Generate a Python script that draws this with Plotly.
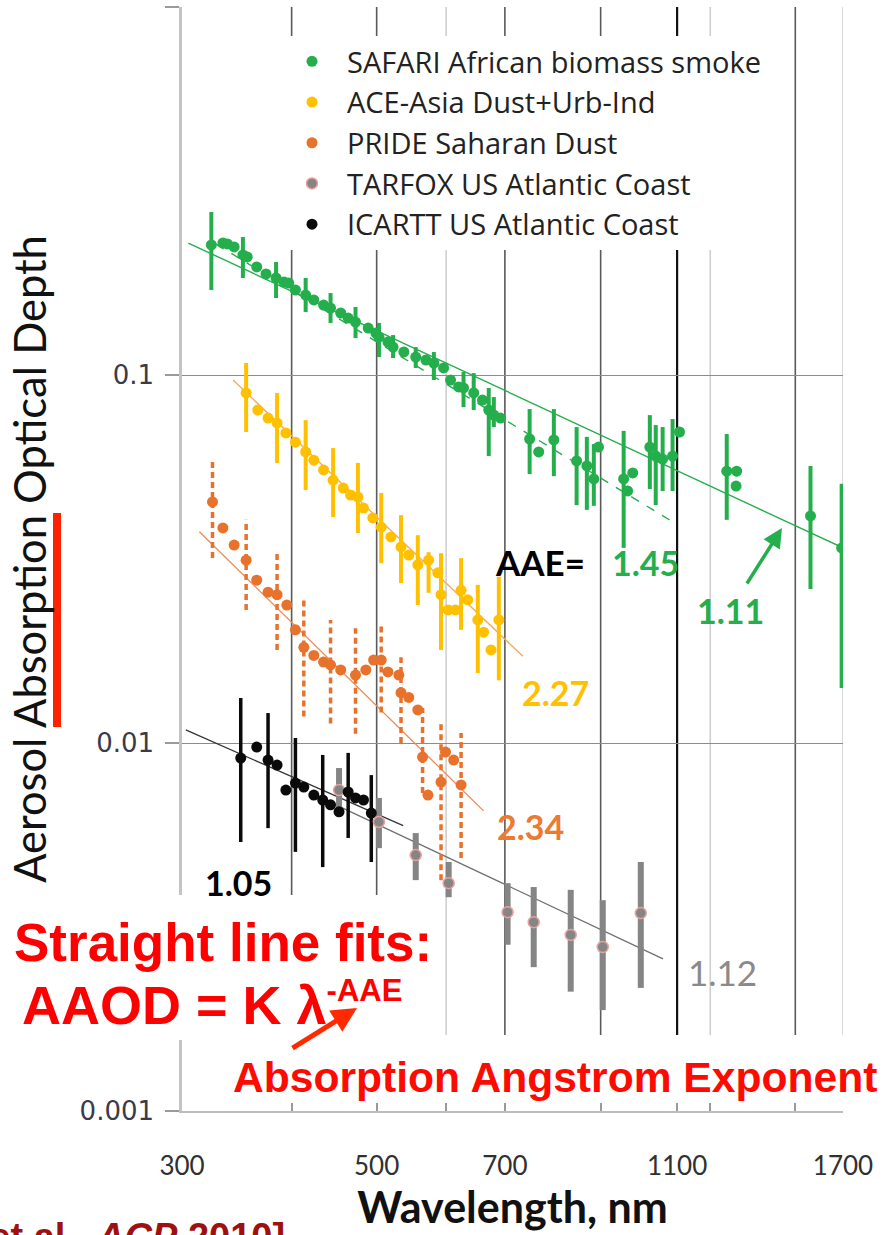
import plotly.graph_objects as go

N = None

# ---------------- data ----------------
safari_wl = [324, 334, 338, 344, 352, 356, 365, 374, 384, 392,
             397, 404, 415, 424, 435, 443, 455, 464, 473, 489,
             499, 503, 515, 522, 537, 554, 569, 581, 596, 607,
             620, 628, 645, 660, 671, 680, 692, 747, 765, 796,
             845, 868, 884, 895, 956, 966, 979, 1024, 1040, 1059,
             1087, 1107, 1253, 1284, 1286, 1561, 1694]
safari_aaod = [0.2256, 0.2284, 0.2270, 0.2228, 0.2119, 0.2093, 0.1966, 0.1882, 0.1835, 0.1790,
               0.1778, 0.1702, 0.1649, 0.1599, 0.1549, 0.1520, 0.1474, 0.1428, 0.1393, 0.1341,
               0.1300, 0.1268, 0.1229, 0.1191, 0.1155, 0.1119, 0.1098, 0.1078, 0.1045, 0.0969,
               0.0928, 0.0922, 0.0894, 0.0855, 0.0803, 0.0778, 0.0764, 0.0670, 0.0618, 0.0666,
               0.0584, 0.0566, 0.0522, 0.0637, 0.0522, 0.0484, 0.0542, 0.0637, 0.0602, 0.0591,
               0.0602, 0.0700, 0.0548, 0.0499, 0.0548, 0.0414, 0.0339]
safari_hi = [0.2773, N, N, N, 0.2371, N, N, N, 0.2028, N,
             N, N, 0.1835, N, N, 0.1670, N, N, 0.1530, N,
             N, 0.1385, N, 0.1284, N, 0.1191, N, 0.1155, N, N,
             N, 0.1019, 0.1012, N, 0.0922, 0.0871, N, 0.0808, N, 0.0808,
             0.0722, 0.0679, 0.0649, N, 0.0705, N, N, 0.0778, 0.0731, 0.0722,
             0.0759, N, 0.0691, N, N, 0.0566, 0.0506]
safari_lo = [0.1702, N, N, N, 0.1835, N, N, N, 0.1619, N,
             N, N, 0.1483, N, N, 0.1385, N, N, 0.1260, N,
             N, 0.1119, N, 0.1112, N, 0.1045, N, 0.0969, N, N,
             N, 0.0818, 0.0803, N, 0.0602, 0.0722, N, 0.0538, N, 0.0531,
             0.0443, 0.0430, 0.0441, N, 0.0339, N, N, 0.0490, 0.0443, 0.0484,
             0.0484, N, 0.0404, N, N, 0.0262, 0.0141]

ace_wl = [355, 366, 376, 385, 394, 404, 415, 424, 435, 446,
          458, 467, 476, 483, 495, 506, 519, 533, 544, 557,
          573, 587, 592, 603, 615, 624, 635, 652, 662, 675, 689]
ace_aaod = [0.0894, 0.0803, 0.0764, 0.0741, 0.0696, 0.0657, 0.0618, 0.0587, 0.0552, 0.0518,
            0.0493, 0.0472, 0.0466, 0.0435, 0.0409, 0.0386, 0.0363, 0.0341, 0.0324, 0.0305,
            0.0314, 0.0290, 0.0253, 0.0230, 0.0230, 0.0260, 0.0245, 0.0216, 0.0200, 0.0179, 0.0216]
ace_hi = [0.1078, N, N, 0.0894, N, N, 0.0754, N, N, 0.0633,
          N, N, 0.0577, N, N, 0.0478, N, 0.0416, N, 0.0367,
          0.0330, N, 0.0328, N, N, 0.0318, N, 0.0269, N, N, 0.0283]
ace_lo = [0.0700, N, N, 0.0577, N, N, 0.0487, N, N, 0.0411,
          N, N, 0.0372, N, N, 0.0308, N, 0.0272, N, 0.0237,
          0.0256, N, 0.0179, N, N, 0.0203, N, 0.0155, N, N, 0.0148]

pride_wl = [325, 334, 344, 355, 365, 376, 385, 395, 404, 413,
            424, 435, 443, 455, 473, 486, 496, 506, 515, 530,
            533, 544, 557, 564, 572, 592, 599, 612, 624]
pride_aaod = [0.0452, 0.0384, 0.0345, 0.0314, 0.0277, 0.0257, 0.0253, 0.0237, 0.0203, 0.0182,
              0.0173, 0.0166, 0.0163, 0.0158, 0.0153, 0.0158, 0.0168, 0.0168, 0.0156, 0.0153,
              0.0137, 0.0133, 0.0123, 0.00916, 0.00722, 0.00783, 0.00945, 0.00899, 0.00769]
pride_hi = [0.0587, N, N, 0.0404, N, N, 0.0334, N, N, 0.0248,
            N, N, 0.0216, N, 0.0205, N, N, 0.0212, N, N,
            0.0171, N, N, 0.01245, N, 0.0113, N, N, 0.01064]
pride_lo = [0.0318, N, N, 0.0230, N, N, 0.0179, N, N, 0.0118,
            N, N, 0.0113, N, 0.0106, N, N, 0.0121, N, N,
            0.0100, N, N, 0.00731, N, 0.00424, N, N, 0.00487]

tarfox_wl = [453, 503, 554, 604, 705, 755, 832, 905, 1000]
tarfox_aaod = [0.00745, 0.0061, 0.00496, 0.00416, 0.00347, 0.00326, 0.00301, 0.00279, 0.00345]
tarfox_hi = [0.00855, 0.00709, 0.00569, 0.00475, 0.00416, 0.00406, 0.00399, 0.00374, 0.00475]
tarfox_lo = [0.00645, 0.00518, 0.00424, 0.00381, 0.00283, 0.00246, 0.00211, 0.00188, 0.00216]

icartt_wl = [350, 365, 376, 385, 394, 404, 413, 424, 434, 443, 453, 464, 473, 483, 493]
icartt_aaod = [0.0091, 0.00975, 0.00899, 0.00871, 0.00745, 0.00778, 0.00759, 0.00722, 0.00700,
               0.00679, 0.0065, 0.00736, 0.00709, 0.00700, 0.00645]
icartt_hi = [0.01326, N, 0.01206, N, N, 0.01032, N, N, 0.00928, N, N, 0.0094, N, N, 0.00818]
icartt_lo = [0.00538, N, 0.00587, N, N, 0.00506, N, N, 0.0046, N, N, 0.00552, N, N, 0.00475]

# straight-line fits (end points)
fit_safari_wl, fit_safari_aaod = [305, 1700], [0.2283, 0.0339]
fit_safari2_wl, fit_safari2_aaod = [328, 1093], [0.2268, 0.0396]
fit_ace_wl, fit_ace_aaod = [343, 734], [0.0969, 0.0172]
fit_pride_wl, fit_pride_aaod = [314, 662], [0.0375, 0.00654]
fit_icartt_wl, fit_icartt_aaod = [303, 536], [0.01085, 0.00596]
fit_tarfox_wl, fit_tarfox_aaod = [453, 1060], [0.00673, 0.00259]

x_tickvals = [300, 400, 500, 600, 700, 900, 1100, 1200, 1500, 1700]
x_ticktext = ["300", "", "500", "", "700", "", "1100", "", "", "1700"]
y_tickvals = [0.001, 0.01, 0.1, 1]
y_ticktext = ["0.001", "0.01", "0.1", "1"]
grid_wl = [400, 500, 600, 700, 900, 1100, 1200, 1500, 1700]
grid_col = ["#5a5a5a", "#5a5a5a", "#cfcfcf", "#5a5a5a", "#5a5a5a", "#111111", "#cfcfcf", "#5a5a5a", "#cfcfcf"]

GREEN = "#24AE4C"
YELLOW = "#FFC000"
ORANGE = "#E8722C"
GRAY = "#858585"
BLACK = "#0a0a0a"
RED = "#FF0000"

W, H = 888, 1235
L, R, T, B = 182, 45, 7, 124


def px(xp):
    return (xp - L) / (W - L - R)


def py(yp):
    return (H - B - yp) / (H - T - B)


def bars(wl, hi, lo):
    xs, ys = [], []
    for w, h, l in zip(wl, hi, lo):
        if h is None:
            continue
        xs += [w, w, None]
        ys += [l, h, None]
    return xs, ys


fig = go.Figure()

# fit lines
fig.add_trace(go.Scatter(x=fit_safari_wl, y=fit_safari_aaod, mode="lines",
                         line=dict(color=GREEN, width=1.4), showlegend=False, hoverinfo="skip"))
fig.add_trace(go.Scatter(x=fit_safari2_wl, y=fit_safari2_aaod, mode="lines",
                         line=dict(color=GREEN, width=1.4, dash="dash"), showlegend=False, hoverinfo="skip"))
fig.add_trace(go.Scatter(x=fit_ace_wl, y=fit_ace_aaod, mode="lines",
                         line=dict(color="#F3A860", width=1.3), showlegend=False, hoverinfo="skip"))
fig.add_trace(go.Scatter(x=fit_pride_wl, y=fit_pride_aaod, mode="lines",
                         line=dict(color="#EE8A55", width=1.3), showlegend=False, hoverinfo="skip"))
fig.add_trace(go.Scatter(x=fit_tarfox_wl, y=fit_tarfox_aaod, mode="lines",
                         line=dict(color="#6f6f6f", width=1.3), showlegend=False, hoverinfo="skip"))
fig.add_trace(go.Scatter(x=fit_icartt_wl, y=fit_icartt_aaod, mode="lines",
                         line=dict(color="#333333", width=1.3), showlegend=False, hoverinfo="skip"))

# error bars
for wl, hi, lo, col, wdt, dash in [
    (safari_wl, safari_hi, safari_lo, GREEN, 4, "solid"),
    (ace_wl, ace_hi, ace_lo, YELLOW, 4, "solid"),
    (pride_wl, pride_hi, pride_lo, ORANGE, 3.5, "6px,4px"),
    (tarfox_wl, tarfox_hi, tarfox_lo, GRAY, 6, "solid"),
    (icartt_wl, icartt_hi, icartt_lo, BLACK, 3.5, "solid"),
]:
    bx, by = bars(wl, hi, lo)
    fig.add_trace(go.Scatter(x=bx, y=by, mode="lines", line=dict(color=col, width=wdt, dash=dash),
                             showlegend=False, hoverinfo="skip"))

# markers (legend entries)
fig.add_trace(go.Scatter(x=safari_wl, y=safari_aaod, mode="markers", name="SAFARI African biomass smoke",
                         marker=dict(color=GREEN, size=11), legendrank=1))
fig.add_trace(go.Scatter(x=ace_wl, y=ace_aaod, mode="markers", name="ACE-Asia Dust+Urb-Ind",
                         marker=dict(color=YELLOW, size=11), legendrank=2))
fig.add_trace(go.Scatter(x=pride_wl, y=pride_aaod, mode="markers", name="PRIDE Saharan Dust",
                         marker=dict(color=ORANGE, size=11), legendrank=3))
fig.add_trace(go.Scatter(x=tarfox_wl, y=tarfox_aaod, mode="markers", name="TARFOX US Atlantic Coast",
                         marker=dict(color=GRAY, size=11, line=dict(color="#EAA0A0", width=1.5)), legendrank=4))
fig.add_trace(go.Scatter(x=icartt_wl, y=icartt_aaod, mode="markers", name="ICARTT US Atlantic Coast",
                         marker=dict(color=BLACK, size=11), legendrank=5))

shapes = []
for g, c in zip(grid_wl, grid_col):
    shapes.append(dict(type="line", xref="x", yref="paper", x0=g, x1=g, y0=py(1035), y1=1,
                       line=dict(color=c, width=1.6 if c != "#111111" else 2.2), layer="below"))
# white cover behind the formula text
shapes.append(dict(type="rect", xref="paper", yref="paper", x0=px(-5), x1=px(445), y0=py(1040), y1=py(895),
                   fillcolor="white", line=dict(width=0), layer="above"))
# red underline bar next to "Absorption"
shapes.append(dict(type="rect", xref="paper", yref="paper", x0=px(53), x1=px(61), y0=py(727), y1=py(513),
                   fillcolor="#FF2200", line=dict(width=0), layer="above"))

ann = []


def txt(t, x, y, color, size, bold=True, family="Lato", xanchor="left"):
    ann.append(dict(text=("<b>%s</b>" % t) if bold else t, x=px(x), y=py(y), xref="paper", yref="paper",
                    xanchor=xanchor, yanchor="middle", showarrow=False,
                    font=dict(family=family, size=size, color=color)))


txt("AAE=", 493, 562, "#000000", 35)
txt("1.45", 610, 562, GREEN, 34)
txt("1.11", 695, 610, GREEN, 34)
txt("2.27", 520, 692, YELLOW, 34)
txt("2.34", 495, 826, "#EC7A30", 34)
txt("1.05", 203, 882, "#000000", 34)
txt("1.12", 686, 972, "#8a8a8a", 35, bold=False)
txt("Straight line fits:", 12, 942, RED, 53, family="Liberation Sans")
txt('AAOD = K λ<sup><span style="font-size:31px">-AAE</span></sup>', 20, 1004, RED, 54,
    family="Liberation Sans")
txt("Absorption Angstrom Exponent", 231, 1077, "#FF0A00", 42.6, family="Liberation Sans")
txt("[Russell et al., <i>ACP</i> 2010]", 287, 1237, "#A01010", 38, family="Liberation Sans", xanchor="right")

# arrows
ann.append(dict(x=px(357), y=py(1008), xref="paper", yref="paper", ax=-66, ay=41, text="",
                showarrow=True, arrowhead=2, arrowsize=1.0, arrowwidth=5, arrowcolor="#FF2A00"))
ann.append(dict(x=px(782), y=py(528), xref="paper", yref="paper", ax=-36, ay=57, text="",
                showarrow=True, arrowhead=2, arrowsize=1.1, arrowwidth=3.5, arrowcolor=GREEN))

fig.update_layout(
    width=W, height=H,
    margin=dict(l=L, r=R, t=T, b=B),
    paper_bgcolor="white", plot_bgcolor="white",
    font=dict(family="Lato", color="#222"),
    shapes=shapes, annotations=ann,
    legend=dict(x=px(277), y=py(36), xanchor="left", yanchor="top", bgcolor="white",
                font=dict(family="Open Sans", size=29, color="#222"), itemwidth=60, tracegroupgap=0),
    xaxis=dict(type="log", range=[2.47712, 3.23045], tickvals=x_tickvals, ticktext=x_ticktext,
               showgrid=False, showline=True, linecolor="#bdbdbd", linewidth=2,
               ticks="inside", ticklen=8, tickcolor="#999", tickwidth=1.5,
               tickfont=dict(family="Lato", size=26, color="#303030"), ticklabelstandoff=31,
               title=dict(text="<b>Wavelength, nm</b>", font=dict(family="Lato", size=43, color="#111"),
                          standoff=8),
               zeroline=False),
    yaxis=dict(type="log", range=[-3, 0], tickvals=y_tickvals, ticktext=y_ticktext,
               showgrid=True, gridcolor="#8c8c8c", gridwidth=1.4,
               showline=True, linecolor="#c4c4c4", linewidth=2.5,
               ticks="outside", ticklen=14, tickcolor="#9a9a9a", tickwidth=1.5,
               tickfont=dict(family="DejaVu Sans", size=26, color="#3a3a48"), ticklabelstandoff=6,
               title=dict(text="Aerosol Absorption Optical Depth", font=dict(family="Lato", size=43.5, color="#111"),
                          standoff=20),
               zeroline=False),
)

fig.write_html("out.html")
